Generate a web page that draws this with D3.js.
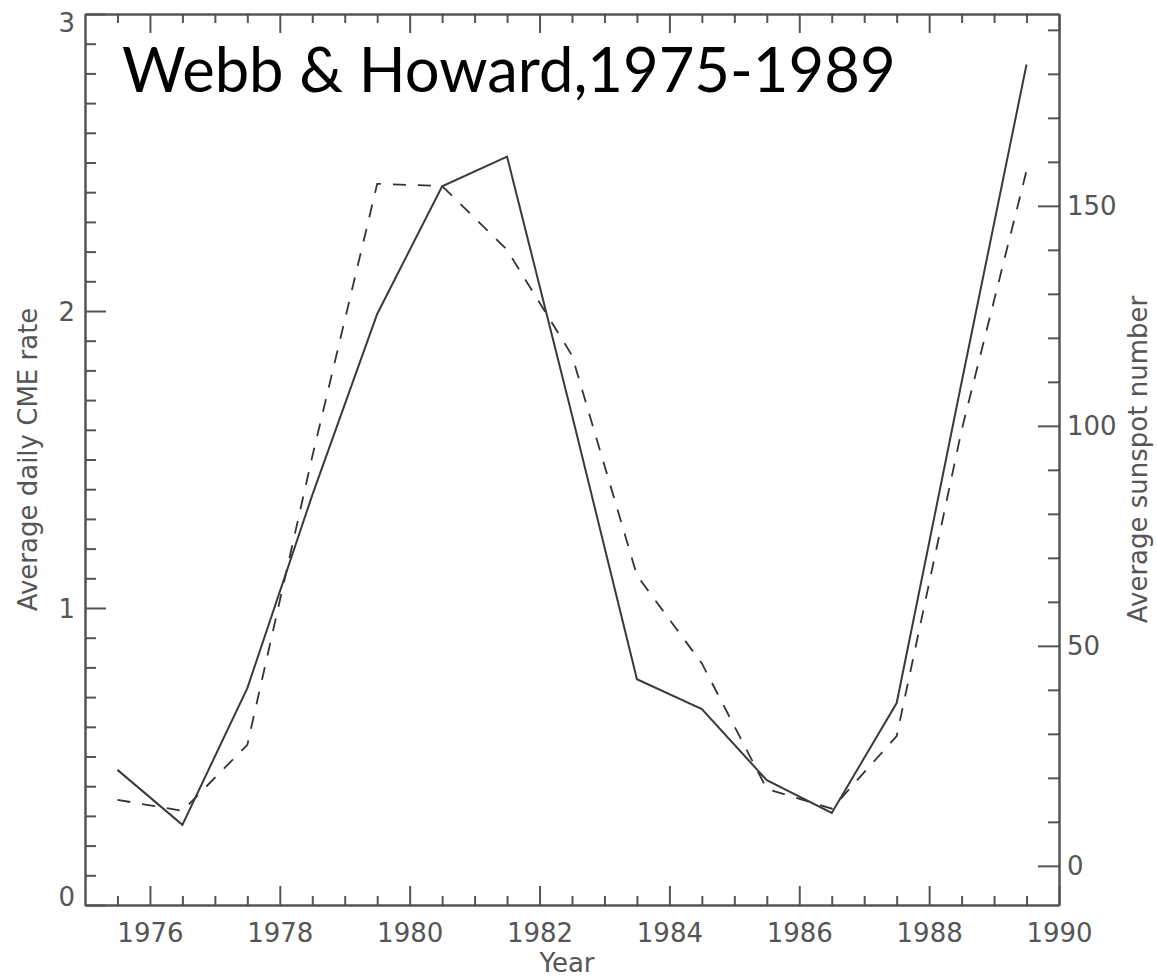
<!DOCTYPE html>
<html lang="en">
<head>
    <meta charset="UTF-8">
    <title>Webb & Howard, 1975-1989</title>
    <script src="https://d3js.org/d3.v7.js"></script>
    <style>
        body {
            margin: 0;
            background: #fff;
        }
        .tick text {
            font-family: "DejaVu Sans", sans-serif;
            font-size: 26px;
            fill: #555;
        }
        .axis path, .axis line {
            stroke: #555;
            stroke-width: 2;
        }
        .axis-title {
            font-family: "DejaVu Sans", sans-serif;
            font-size: 26px;
            fill: #555;
            text-anchor: middle;
        }
    </style>
</head>
<body>
    <svg id="chart"></svg>

    <script>
        // Data (mid-year points)
        const years = [1975.5, 1976.5, 1977.5, 1978.5, 1979.5, 1980.5, 1981.5, 1982.5,
                       1983.5, 1984.5, 1985.5, 1986.5, 1987.5, 1988.5, 1989.5];
        const cmeRate = [0.455, 0.27, 0.73, 1.38, 1.99, 2.42, 2.52, 1.65,
                         0.76, 0.66, 0.42, 0.31, 0.68, 1.76, 2.83];
        const sunspots = [15, 12.5, 27.5, 93, 155, 154.5, 140, 116,
                          66, 46, 17.5, 13, 29.5, 99, 158];
        const xTicks = [1976, 1978, 1980, 1982, 1984, 1986, 1988, 1990];
        const leftTicks = [0, 1, 2, 3];
        const rightTicks = [0, 50, 100, 150];

        const width = 1157;
        const height = 979;
        const plotLeft = 85, plotRight = 1059, plotTop = 14, plotBottom = 905;

        const svg = d3.select("#chart")
            .attr("width", width)
            .attr("height", height);

        // Scales
        const x = d3.scaleLinear().domain([1975, 1990]).range([plotLeft, plotRight]);
        const yL = d3.scaleLinear().domain([0, 3]).range([plotBottom, plotTop]);
        const yR = d3.scaleLinear().domain([-8.9, 193.6]).range([plotBottom, plotTop]);

        const minorX = d3.range(1975.5, 1990, 0.5).filter(d => d % 2 !== 0);
        const minorL = d3.range(1, 30).map(d => d / 10).filter(d => d % 1 !== 0);
        const minorR = d3.range(0, 200, 10).filter(d => d % 50 !== 0 && d < 193);

        // Bottom axis
        svg.append("g").attr("class", "axis")
            .attr("transform", `translate(0,${plotBottom})`)
            .call(d3.axisBottom(x).tickValues(minorX).tickSize(-9).tickSizeOuter(0).tickFormat(""));
        svg.append("g").attr("class", "axis")
            .attr("transform", `translate(0,${plotBottom})`)
            .call(d3.axisBottom(x).tickValues(xTicks).tickSize(-19).tickSizeOuter(0).tickPadding(19).tickFormat(d3.format("d")));

        // Top axis
        svg.append("g").attr("class", "axis")
            .attr("transform", `translate(0,${plotTop})`)
            .call(d3.axisTop(x).tickValues(minorX).tickSize(-9).tickSizeOuter(0).tickFormat(""));
        svg.append("g").attr("class", "axis")
            .attr("transform", `translate(0,${plotTop})`)
            .call(d3.axisTop(x).tickValues(xTicks).tickSize(-19).tickSizeOuter(0).tickFormat(""));

        // Left axis
        svg.append("g").attr("class", "axis")
            .attr("transform", `translate(${plotLeft},0)`)
            .call(d3.axisLeft(yL).tickValues(minorL).tickSize(-11).tickSizeOuter(0).tickFormat(""));
        const leftAxis = svg.append("g").attr("class", "axis")
            .attr("transform", `translate(${plotLeft},0)`)
            .call(d3.axisLeft(yL).tickValues(leftTicks).tickSize(-21).tickSizeOuter(0).tickPadding(10).tickFormat(d3.format("d")));
        leftAxis.selectAll(".tick text")
            .attr("dy", d => d === 0 ? "0.0em" : d === 3 ? "0.68em" : "0.36em");

        // Right axis
        svg.append("g").attr("class", "axis")
            .attr("transform", `translate(${plotRight},0)`)
            .call(d3.axisRight(yR).tickValues(minorR).tickSize(-11).tickSizeOuter(0).tickFormat(""));
        svg.append("g").attr("class", "axis")
            .attr("transform", `translate(${plotRight},0)`)
            .call(d3.axisRight(yR).tickValues(rightTicks).tickSize(-21).tickSizeOuter(0).tickPadding(8).tickFormat(d3.format("d")));

        // Axis titles
        svg.append("text").attr("class", "axis-title")
            .attr("x", 567).attr("y", 972)
            .attr("font-size", 24)
            .text("Year");
        svg.append("text").attr("class", "axis-title")
            .attr("transform", `translate(37,${(plotTop + plotBottom) / 2}) rotate(-90)`)
            .text("Average daily CME rate");
        svg.append("text").attr("class", "axis-title")
            .attr("transform", `translate(1147,${(plotTop + plotBottom) / 2}) rotate(-90)`)
            .text("Average sunspot number");

        // Lines
        const cmeLine = d3.line().x((d, i) => x(years[i])).y(d => yL(d));
        const ssnLine = d3.line().x((d, i) => x(years[i])).y(d => yR(d));

        svg.append("path")
            .datum(sunspots)
            .attr("d", ssnLine)
            .attr("fill", "none")
            .attr("stroke", "#333")
            .attr("stroke-width", 1.8)
            .attr("stroke-dasharray", "13,12");

        svg.append("path")
            .datum(cmeRate)
            .attr("d", cmeLine)
            .attr("fill", "none")
            .attr("stroke", "#3a3a3a")
            .attr("stroke-width", 2);

        // Title
        svg.append("text")
            .attr("x", 122).attr("y", 92)
            .attr("font-family", "Lato, sans-serif")
            .attr("font-size", 61.5)
            .attr("fill", "#000")
            .text("Webb & Howard,1975-1989");
    </script>
</body>
</html>
